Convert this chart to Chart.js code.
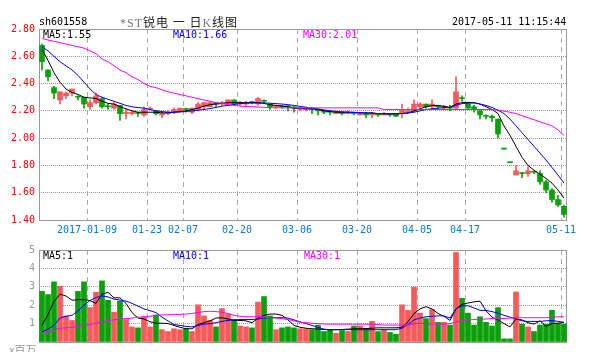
<!DOCTYPE html>
<html>
<head>
<meta charset="utf-8">
<script src="https://cdn.jsdelivr.net/npm/chart.js@4"></script>
<style>
  body { margin: 0; background: #fff; }
  #wrap { position: relative; width: 607px; height: 352px; overflow: hidden;
          font-family: "DejaVu Sans Mono", monospace; font-size: 10px; }
  #priceBox { position: absolute; left: 0; top: 0; }
  #volBox { position: absolute; left: 0; top: 240px; }
  .t { position: absolute; white-space: pre; line-height: 12px; }
  .serif { font-family: "Liberation Serif", serif; color: #777; }
</style>
</head>
<body>
<div id="wrap">
  <canvas id="priceBox" width="607" height="240"></canvas>
  <canvas id="volBox" width="607" height="112"></canvas>
  <div class="t" style="left:39px;top:16px;color:#000">sh601558</div>
  <div class="t" style="left:120px;top:15px;color:#222;font-family:'Noto Sans CJK SC',sans-serif;font-size:12px;line-height:14px;letter-spacing:1px"><span class="serif">*ST</span>锐电 一 日<span class="serif">K</span>线图</div>
  <div class="t" style="left:452px;top:16px;color:#000">2017-05-11 11:15:44</div>
  <div class="t" style="left:43px;top:29px;color:#000">MA5:1.55</div>
  <div class="t" style="left:173px;top:29px;color:#00f">MA10:1.66</div>
  <div class="t" style="left:303px;top:29px;color:#f0f">MA30:2.01</div>
  <div class="t" style="left:43px;top:250px;color:#000">MA5:1</div>
  <div class="t" style="left:173px;top:250px;color:#00f">MA10:1</div>
  <div class="t" style="left:304px;top:250px;color:#f0f">MA30:1</div>
  <div class="t" style="left:9px;top:343px;color:#999;font-family:'Noto Sans CJK SC',sans-serif;font-size:11px">x百万</div>
</div>
<script>
// trading days shown (one bar per day)
const dates = [
  '2016-12-27','2016-12-28','2016-12-29','2016-12-30','2017-01-03','2017-01-04','2017-01-05','2017-01-06','2017-01-09','2017-01-10',
  '2017-01-11','2017-01-12','2017-01-13','2017-01-16','2017-01-17','2017-01-18','2017-01-19','2017-01-20','2017-01-23','2017-01-24',
  '2017-01-25','2017-01-26','2017-02-03','2017-02-06','2017-02-07','2017-02-08','2017-02-09','2017-02-10','2017-02-13','2017-02-14',
  '2017-02-15','2017-02-16','2017-02-17','2017-02-20','2017-02-21','2017-02-22','2017-02-23','2017-02-24','2017-02-27','2017-02-28',
  '2017-03-01','2017-03-02','2017-03-03','2017-03-06','2017-03-07','2017-03-08','2017-03-09','2017-03-10','2017-03-13','2017-03-14',
  '2017-03-15','2017-03-16','2017-03-17','2017-03-20','2017-03-21','2017-03-22','2017-03-23','2017-03-24','2017-03-27','2017-03-28',
  '2017-03-29','2017-03-30','2017-03-31','2017-04-05','2017-04-06','2017-04-07','2017-04-10','2017-04-11','2017-04-12','2017-04-13',
  '2017-04-14','2017-04-17','2017-04-18','2017-04-19','2017-04-20','2017-04-21','2017-04-24','2017-04-25','2017-04-26','2017-04-27',
  '2017-05-02','2017-05-03','2017-05-04','2017-05-05','2017-05-08','2017-05-09','2017-05-10','2017-05-11'
];
const tickBars = [8, 18, 24, 33, 43, 53, 63, 71, 87];
const tickLabels = ['2017-01-09', '01-23', '02-07', '02-20', '03-06', '03-20', '04-05', '04-17', '05-11'];
const priceTicks = [1.4, 1.6, 1.8, 2.0, 2.2, 2.4, 2.6, 2.8];
const volTicks = [0, 1, 2, 3, 4, 5];

const open = [
  2.68,2.50,2.37,2.28,2.31,2.33,2.30,2.30,2.23,2.26,
  2.29,2.23,2.22,2.24,2.18,2.18,2.18,2.17,2.21,2.20,
  2.17,2.18,2.19,2.20,2.21,2.19,2.21,2.23,2.23,2.26,
  2.25,2.25,2.28,2.25,2.25,2.26,2.25,2.27,2.25,2.23,
  2.23,2.23,2.23,2.21,2.21,2.21,2.21,2.19,2.19,2.18,
  2.19,2.18,2.18,2.17,2.18,2.17,2.17,2.17,2.17,2.18,
  2.18,2.19,2.20,2.23,2.25,2.23,2.23,2.22,2.22,2.22,
  2.29,2.25,2.23,2.20,2.16,2.16,2.14,1.92,1.82,1.73,
  1.74,1.74,1.75,1.74,1.68,1.62,1.55,1.50
];
const high = [
  2.69,2.50,2.38,2.34,2.34,2.36,2.31,2.30,2.28,2.33,
  2.30,2.25,2.26,2.24,2.21,2.20,2.19,2.23,2.23,2.20,
  2.19,2.20,2.22,2.22,2.22,2.22,2.26,2.26,2.27,2.26,
  2.27,2.28,2.28,2.27,2.27,2.27,2.30,2.28,2.25,2.24,
  2.24,2.24,2.23,2.22,2.23,2.22,2.21,2.20,2.20,2.20,
  2.19,2.20,2.19,2.19,2.19,2.19,2.18,2.19,2.18,2.18,
  2.25,2.22,2.28,2.26,2.25,2.28,2.24,2.24,2.24,2.45,
  2.31,2.26,2.24,2.20,2.17,2.17,2.14,1.92,1.82,1.80,
  1.75,1.79,1.76,1.76,1.69,1.63,1.58,1.51
];
const low = [
  2.50,2.42,2.29,2.25,2.29,2.31,2.28,2.22,2.21,2.25,
  2.22,2.21,2.21,2.13,2.14,2.17,2.16,2.16,2.21,2.17,
  2.15,2.17,2.18,2.19,2.19,2.18,2.20,2.21,2.23,2.23,
  2.24,2.24,2.24,2.24,2.24,2.25,2.24,2.25,2.21,2.22,
  2.22,2.20,2.19,2.20,2.20,2.18,2.17,2.18,2.17,2.18,
  2.17,2.18,2.17,2.17,2.15,2.15,2.16,2.17,2.16,2.16,
  2.15,2.18,2.19,2.22,2.22,2.21,2.21,2.21,2.20,2.21,
  2.27,2.21,2.19,2.14,2.14,2.12,2.00,1.92,1.82,1.73,
  1.71,1.72,1.74,1.66,1.60,1.53,1.50,1.42
];
const close = [
  2.56,2.45,2.33,2.34,2.33,2.36,2.30,2.25,2.26,2.31,
  2.23,2.23,2.25,2.18,2.19,2.19,2.18,2.21,2.22,2.18,
  2.18,2.19,2.21,2.22,2.21,2.22,2.25,2.26,2.26,2.25,
  2.26,2.28,2.25,2.26,2.26,2.26,2.29,2.27,2.23,2.24,
  2.23,2.23,2.22,2.22,2.22,2.21,2.20,2.19,2.19,2.19,
  2.18,2.19,2.18,2.18,2.17,2.18,2.17,2.18,2.17,2.16,
  2.21,2.20,2.25,2.25,2.23,2.25,2.23,2.23,2.22,2.34,
  2.29,2.22,2.21,2.17,2.16,2.15,2.03,1.92,1.82,1.76,
  1.74,1.76,1.75,1.68,1.62,1.55,1.51,1.44
];
const ma5 = [
  2.65,2.57,2.48,2.41,2.36,2.335,2.32,2.30,2.295,2.29,
  2.27,2.255,2.25,2.23,2.215,2.20,2.19,2.19,2.19,2.19,
  2.185,2.185,2.19,2.195,2.20,2.21,2.22,2.235,2.245,2.25,
  2.255,2.26,2.26,2.26,2.26,2.26,2.26,2.255,2.245,2.24,
  2.235,2.23,2.22,2.22,2.215,2.215,2.21,2.20,2.195,2.19,
  2.19,2.19,2.19,2.185,2.185,2.185,2.18,2.178,2.178,2.178,
  2.18,2.185,2.20,2.215,2.23,2.24,2.24,2.233,2.225,2.25,
  2.26,2.262,2.26,2.25,2.23,2.21,2.18,2.09,2.02,1.94,
  1.86,1.80,1.765,1.735,1.705,1.67,1.62,1.56
];
const ma10 = [
  2.67,2.64,2.60,2.56,2.53,2.50,2.46,2.41,2.36,2.32,
  2.30,2.285,2.27,2.255,2.24,2.23,2.224,2.22,2.21,2.20,
  2.195,2.19,2.19,2.192,2.195,2.20,2.205,2.21,2.217,2.225,
  2.235,2.24,2.247,2.253,2.256,2.258,2.258,2.258,2.256,2.253,
  2.25,2.245,2.24,2.233,2.226,2.22,2.214,2.207,2.20,2.196,
  2.193,2.19,2.188,2.187,2.185,2.183,2.18,2.178,2.178,2.179,
  2.18,2.185,2.19,2.20,2.21,2.215,2.22,2.224,2.226,2.24,
  2.253,2.256,2.258,2.25,2.24,2.225,2.205,2.18,2.14,2.09,
  2.04,1.99,1.94,1.89,1.84,1.785,1.73,1.67
];
const ma30 = [
  2.73,2.72,2.71,2.70,2.69,2.68,2.67,2.66,2.64,2.62,
  2.58,2.56,2.53,2.50,2.48,2.45,2.43,2.40,2.38,2.37,
  2.355,2.34,2.33,2.32,2.31,2.30,2.29,2.28,2.27,2.26,
  2.255,2.245,2.24,2.235,2.232,2.23,2.228,2.226,2.224,2.222,
  2.222,2.222,2.222,2.222,2.222,2.222,2.222,2.222,2.222,2.222,
  2.222,2.222,2.222,2.222,2.222,2.222,2.222,2.21,2.21,2.21,
  2.21,2.21,2.21,2.21,2.21,2.21,2.21,2.21,2.21,2.21,
  2.21,2.21,2.21,2.21,2.21,2.21,2.205,2.198,2.19,2.18,
  2.165,2.15,2.135,2.12,2.105,2.09,2.06,2.02
];
// volume in millions of shares
const volume = [
  2.75,2.58,3.27,3.03,1.42,1.17,2.75,3.27,1.87,2.70,
  3.32,2.27,1.62,2.22,1.22,0.82,0.77,1.37,0.82,1.47,
  0.67,0.57,0.72,0.67,0.72,0.57,2.02,1.42,1.17,0.82,
  1.82,1.52,1.22,0.87,0.82,0.77,2.17,2.47,1.42,0.67,
  0.77,0.82,0.77,0.72,0.72,0.67,0.92,0.57,0.67,0.47,
  0.62,0.57,0.87,0.87,0.67,1.12,0.57,0.67,0.52,0.42,
  2.02,1.72,2.97,1.57,1.27,1.77,1.07,1.07,0.92,4.87,
  2.37,1.57,0.92,1.37,1.07,0.87,1.87,0.17,0.17,2.72,
  0.97,0.82,0.57,0.92,0.97,1.72,1.02,0.97
];
const volMa5 = [
  0.90,1.50,2.20,2.60,2.50,2.27,2.30,2.30,2.25,2.10,
  2.60,2.70,2.40,2.40,2.10,1.60,1.30,1.25,1.10,1.02,
  1.02,1.00,0.90,0.80,0.72,0.72,0.95,1.05,1.15,1.30,
  1.32,1.25,1.17,1.17,1.15,1.05,1.30,1.45,1.52,1.52,
  1.45,1.20,0.90,0.80,0.75,0.72,0.70,0.68,0.67,0.67,
  0.68,0.70,0.72,0.72,0.73,0.75,0.77,0.77,0.77,0.77,
  0.80,1.10,1.55,1.80,1.92,1.80,1.55,1.40,1.17,1.80,
  2.05,2.12,2.18,2.22,1.70,1.35,1.20,1.00,0.82,1.25,
  1.20,1.05,0.97,1.15,0.85,1.00,1.02,1.07
];
const volMa10 = [
  0.55,0.70,0.90,1.30,1.40,1.45,1.70,2.00,2.25,2.42,
  2.50,2.45,2.33,2.28,2.22,2.10,1.95,1.80,1.70,1.60,
  1.35,1.15,0.95,0.90,0.85,0.82,0.90,0.97,1.00,1.05,
  1.12,1.17,1.20,1.22,1.22,1.22,1.25,1.30,1.32,1.32,
  1.32,1.30,1.20,1.10,1.00,0.90,0.80,0.70,0.67,0.67,
  0.67,0.67,0.67,0.67,0.67,0.67,0.67,0.67,0.67,0.67,
  0.75,0.95,1.20,1.30,1.37,1.40,1.42,1.42,1.30,1.80,
  1.97,1.97,1.85,1.72,1.72,1.65,1.57,1.45,1.35,1.25,
  1.15,1.12,1.12,1.12,1.15,1.17,1.12,1.07
];
const volMa30 = [
  0.45,0.55,0.65,0.75,0.77,0.80,0.85,0.90,0.95,1.02,
  1.10,1.17,1.20,1.25,1.27,1.30,1.35,1.37,1.40,1.45,
  1.47,1.48,1.50,1.50,1.52,1.55,1.60,1.65,1.67,1.65,
  1.62,1.55,1.45,1.40,1.37,1.37,1.37,1.37,1.32,1.30,
  1.27,1.22,1.15,1.07,1.05,1.02,1.00,0.98,0.97,0.97,
  0.97,0.97,0.97,0.97,0.97,0.97,0.94,0.92,0.92,0.92,
  0.92,0.92,1.00,1.02,1.00,0.98,0.97,0.97,1.00,1.10,
  1.15,1.20,1.22,1.24,1.25,1.27,1.27,1.28,1.30,1.32,
  1.32,1.32,1.32,1.32,1.32,1.35,1.37,1.37
];

const RED = '#f65b5b';
const GREEN = '#0aa00a';
const isUp = close.map((c, i) => c > open[i]);
const barColor = (ctx) => (isUp[ctx.dataIndex] ? RED : GREEN);
const monoFont = { family: 'DejaVu Sans Mono', size: 10 };
const pts = (arr) => arr.map((v, i) => ({ x: i, y: v }));

// solid grey frame round the plot area
const frame = {
  id: 'frame',
  beforeDatasetsDraw(chart) {
    const { ctx, chartArea: a } = chart;
    ctx.save();
    ctx.strokeStyle = '#999';
    ctx.lineWidth = 1;
    ctx.strokeRect(a.left + 0.5, a.top + 0.5, a.right - a.left - 1, a.bottom - a.top);
    ctx.restore();
  }
};

function xScale(showLabels) {
  return {
    type: 'linear',
    min: -0.5,
    max: 87.5,
    offset: false,
    afterBuildTicks: (s) => { s.ticks = tickBars.map((b) => ({ value: b - 0.5 })); },
    afterFit: (s) => { s.height = showLabels ? 20 : 4; },
    grid: { color: '#aaa', drawTicks: false, offset: false },
    border: { display: false, dash: [5, 4] },
    ticks: {
      display: showLabels, autoSkip: false, maxRotation: 0, padding: 4,
      color: '#0a7ad0', font: monoFont,
      callback: (v, i) => tickLabels[i]
    }
  };
}

function yScale(ticks, color, fmt) {
  return {
    type: 'linear',
    min: ticks[0],
    max: ticks[ticks.length - 1],
    afterBuildTicks: (s) => { s.ticks = ticks.map((v) => ({ value: v })); },
    afterFit: (s) => { s.width = 39; },
    grid: {
      drawTicks: false,
      color: (c) => (c.index === 0 || c.index === ticks.length - 1 ? 'rgba(0,0,0,0)' : '#999')
    },
    border: { display: false, dash: [1, 1] },
    ticks: { color: color, padding: 4, font: monoFont, callback: fmt }
  };
}

function line(data, color) {
  return {
    type: 'line', data: pts(data), borderColor: color, borderWidth: 1,
    pointRadius: 0, fill: false, tension: 0, order: 0
  };
}

const common = {
  responsive: false,
  animation: false,
  devicePixelRatio: 1,
  plugins: { legend: { display: false }, tooltip: { enabled: false } }
};

new Chart(document.getElementById('priceBox'), {
  type: 'bar',
  data: {
    datasets: [
      {
        data: close.map((c, i) => ({ x: i, y: [low[i], high[i]] })),
        backgroundColor: barColor, barThickness: 1, grouped: false, order: 2
      },
      {
        data: close.map((c, i) => ({ x: i, y: [open[i], c] })),
        backgroundColor: barColor, barThickness: 5, minBarLength: 1, grouped: false, order: 1
      },
      line(ma30, '#ff00ff'),
      line(ma10, '#0000ff'),
      line(ma5, '#000000')
    ]
  },
  options: {
    ...common,
    layout: { padding: { top: 29, right: 40, left: 0, bottom: 0 } },
    scales: {
      x: xScale(true),
      y: yScale(priceTicks, '#ff0000', (v) => v.toFixed(2))
    }
  },
  plugins: [frame]
});

new Chart(document.getElementById('volBox'), {
  type: 'bar',
  data: {
    datasets: [
      {
        data: volume.map((v, i) => ({ x: i, y: v })),
        backgroundColor: barColor, barThickness: 5, grouped: false, order: 1
      },
      line(volMa30, '#ff00ff'),
      line(volMa10, '#0000ff'),
      line(volMa5, '#000000')
    ]
  },
  options: {
    ...common,
    layout: { padding: { top: 9, right: 40, left: 0, bottom: 0 } },
    scales: {
      x: xScale(false),
      y: yScale(volTicks, '#999', (v) => (v === 0 ? '' : String(v)))
    }
  },
  plugins: [frame]
});
</script>
</body>
</html>
